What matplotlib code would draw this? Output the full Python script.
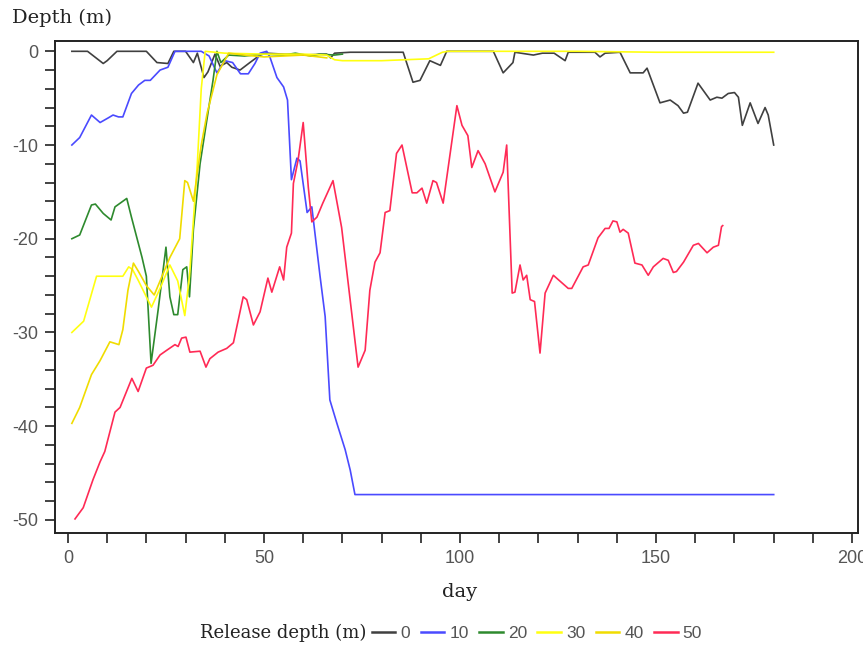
import numpy as np
import matplotlib
matplotlib.use("Agg")
import matplotlib.pyplot as plt
from matplotlib import font_manager
from matplotlib.lines import Line2D
from matplotlib.ticker import MultipleLocator

# ---------------- data ----------------
day0 = [1, 5, 9, 10, 12.5, 20, 22.7, 25.5, 27, 30, 32, 33, 34.7, 35.7, 37.5, 38.8, 40.5, 41.8, 43.9, 46.4, 49, 50.5,
        55, 60, 66, 67, 68, 72, 85.5, 88, 89.8, 92.3, 95, 96.6, 108.5, 111, 113.5, 114, 118.7, 121, 124, 126.8, 127.6,
        134.4, 135.7, 137, 140.8, 143.4, 146.7, 147.7, 151, 153.6, 155.6, 157, 158, 160.7, 163.8, 165.5, 166.8, 168.4,
        170, 171, 172, 174, 176, 177.8, 178.6, 180]
dep0 = [0, 0, -1.3, -1.0, 0, 0, -1.2, -1.3, 0, 0, -1.2, -0.2, -2.8, -2.2, -0.3, -1.6, -1.2, -1.7, -2.0, -1.2, -0.4, -0.2,
        -0.3, -0.4, -0.3, -0.7, -0.2, -0.1, -0.1, -3.3, -3.1, -1.0, -1.5, 0, 0, -2.3, -1.2, -0.1, -0.4, -0.2, -0.2, -1.0, -0.1,
        -0.1, -0.6, -0.2, -0.1, -2.3, -2.3, -1.8, -5.5, -5.2, -5.8, -6.6, -6.5, -3.4, -5.2, -4.9, -5.0, -4.5,
        -4.4, -4.9, -7.9, -5.5, -7.7, -6.0, -6.8, -10]

day10 = [1, 3, 6, 8.2, 10.3, 11.5, 12.9, 14, 16.2, 18, 19.6, 21, 23.5, 25.5, 27.3, 34, 36, 38, 40, 42, 44, 46, 47.7,
         49, 50.7, 51.5, 53.3, 55, 56, 57, 58.4, 59.2, 61, 62.2, 64.3, 65.6, 66.8, 68.6, 70.7, 72, 73.2, 180]
dep10 = [-10, -9.2, -6.8, -7.6, -7.1, -6.8, -7.0, -7.0, -4.5, -3.6, -3.1, -3.1, -2.0, -1.7, 0, 0, -0.5, -2.3, -1.0,
         -1.2, -2.4, -2.4, -1.3, -0.2, 0, -0.6, -2.8, -3.8, -5.2, -13.7, -11.4, -11.7, -17.2, -16.6, -24, -28.3, -37.2,
         -39.7, -42.5, -44.7, -47.3, -47.3]

day20 = [1, 3, 6, 7, 9, 11, 12, 15, 16.2, 18.9, 20, 21.2, 23, 25, 26, 27, 28, 29.3, 30.3, 31, 32, 33.7, 35.7, 37, 38,
         39, 41, 45, 50, 55, 58, 62, 64, 68, 70]
dep20 = [-20, -19.6, -16.4, -16.3, -17.3, -18.0, -16.6, -15.7, -17.7, -22, -24, -33.3, -27.6, -20.9, -26.2, -28.1,
         -28.1, -23.3, -23.0, -26.2, -19, -12, -6.6, -3.1, 0, -1.2, -0.4, -0.5, -0.3, -0.4, -0.2, -0.5, -0.3, -0.4, -0.3]

day30 = [1, 4, 7.3, 14, 15.5, 16.5, 18, 21.3, 23.5, 26, 28, 29.8, 31, 33, 34, 35, 40, 50, 60, 66, 68, 70, 80, 92, 95.5,
         97, 110, 130, 150, 180]
dep30 = [-30, -28.8, -24, -24, -23, -23.3, -24.5, -27.3, -25.3, -22.8, -24.5, -28.2, -24, -12, -4, 0, -0.2, -0.3, -0.3,
         -0.4, -0.9, -1.0, -1.0, -0.8, -0.1, 0, 0, 0, -0.1, -0.1]

day40 = [1, 3, 6, 8.2, 10.7, 13, 14, 15.3, 16.7, 18, 20, 22, 24, 26, 28.5, 29.8, 30.5, 32, 34, 35.5, 38, 41, 45, 50,
         55, 60, 66]
dep40 = [-39.7, -38, -34.5, -33, -31, -31.3, -29.7, -25.5, -22.6, -23.5, -25, -26, -24, -22, -20, -13.8, -14, -16,
         -10, -6.6, -2.5, -0.2, -0.4, -0.6, -0.5, -0.4, -0.7]

day50 = [1.8, 3.9, 6.4, 8.2, 9.4, 12, 13.3, 16.3, 17.9, 20, 21.7, 23.5, 25.2, 27.3, 28.1, 29, 30.1, 31.1, 33.7, 35.2,
         36.2, 38.3, 40.5, 42.2, 44.7, 45.6, 47.3, 49, 51, 52, 54, 55, 55.8, 57, 57.5, 58.7, 60, 61.3, 62.2, 63.5, 65,
         67.6, 69.8, 74, 75.8, 77, 78.3, 79.6, 80.9, 82.1, 83.8, 85.2, 87.8, 89, 90.3, 91.5, 93.1, 94, 95.7, 99.2,
         100.5, 102, 103, 104.6, 106.4, 108.9, 111, 111.9, 113.3, 114, 115.3, 116.1, 117, 117.9, 119, 120.4, 121.7,
         123.8, 127.6, 128.5, 131.4, 132.7, 135.2, 137, 138, 139, 140, 140.8, 141.6, 142.9, 144.6, 146.4, 148, 149.3,
         151.8, 153.1, 154.4, 155.2, 157, 159.5, 160.8, 163, 164.6, 165.9, 166.7, 167]
dep50 = [-49.9, -48.7, -45.7, -43.8, -42.7, -38.5, -38, -34.9, -36.3, -33.8, -33.5, -32.4, -31.9, -31.3, -31.5, -30.6,
         -30.5, -32.1, -32, -33.7, -32.8, -32.1, -31.7, -31.1, -26.2, -26.5, -29.2, -27.8, -24.2, -25.7, -23, -24.4,
         -20.9, -19.4, -14.1, -11.6, -7.6, -14.5, -18.2, -17.7, -16.2, -13.8, -18.8, -33.7, -31.9, -25.5, -22.5,
         -21.5, -17.2, -17, -10.9, -10, -15.1, -15.1, -14.6, -16.2, -13.8, -14, -16.2, -5.8, -7.9, -9, -12.4, -10.6,
         -12, -15, -12.9, -10, -25.8, -25.7, -22.8, -24.4, -23.9, -26.5, -26.7, -32.2, -25.8, -23.9, -25.3, -25.3,
         -23, -22.8, -19.9, -18.9, -18.9, -18.1, -18.2, -19.3, -19, -19.4, -22.6, -22.8, -23.9, -23, -22.1, -22.3,
         -23.6, -23.5, -22.5, -20.7, -20.5, -21.5, -20.9, -20.7, -18.7, -18.6]

labels = ["0", "10", "20", "30", "40", "50"]
colors = ["#404040", "#4a4aff", "#2e8a2e", "#ffff10", "#f0dc00", "#ff2a55"]

# ---------------- fonts ----------------
def have(name):
    try:
        font_manager.findfont(font_manager.FontProperties(family=name), fallback_to_default=False)
        return True
    except Exception:
        return False

narrow = "Liberation Sans" if have("Liberation Sans") else "DejaVu Sans"
serif = "DejaVu Serif"
plt.rcParams["axes.unicode_minus"] = False

# ---------------- figure ----------------
fig = plt.figure(figsize=(8.63, 6.46), dpi=100)
ax = fig.add_axes([55 / 863, 1 - 533 / 646, (858 - 55) / 863, (533 - 41) / 646])

series = [(day0, dep0), (day10, dep10), (day20, dep20), (day30, dep30), (day40, dep40), (day50, dep50)]
for (d, v), c in zip(series, colors):
    ax.plot(d, v, color=c, lw=1.2, solid_joinstyle="round")

ax.set_xlim(-3.3, 201.5)
ax.set_ylim(-51.4, 1.1)
ax.xaxis.set_major_locator(MultipleLocator(50))
ax.xaxis.set_minor_locator(MultipleLocator(10))
ax.yaxis.set_major_locator(MultipleLocator(10))
ax.yaxis.set_minor_locator(MultipleLocator(2))
ax.tick_params(which="both", direction="out", length=7, width=1.2, color="#222222")
ax.tick_params(which="major", labelsize=13, pad=5, labelcolor="#555555")
for lab in ax.get_xticklabels() + ax.get_yticklabels():
    lab.set_family(narrow)
for s in ax.spines.values():
    s.set_linewidth(1.4)
    s.set_color("#222222")

fig.text(12 / 863, 1 - 18 / 646, "Depth (m)", family=serif, fontsize=14, va="center", ha="left", color="#222222")
fig.text(460 / 863, 1 - 592 / 646, "day", family=serif, fontsize=14, va="center", ha="center", color="#222222")
fig.text(200 / 863, 1 - 633 / 646, "Release depth (m)", family=serif, fontsize=13, va="center", ha="left",
         color="#222222")

handles = [Line2D([], [], color=c, lw=1.8) for c in colors]
leg = fig.legend(handles, labels, ncol=6, loc="center left", bbox_to_anchor=(372 / 863, 1 - 633 / 646),
                 frameon=False, handlelength=1.35, handletextpad=0.3, columnspacing=0.6, borderpad=0,
                 borderaxespad=0, prop={"family": narrow, "size": 12.5})
for t in leg.get_texts():
    t.set_color("#555555")

fig.savefig("out.png", dpi=100)
